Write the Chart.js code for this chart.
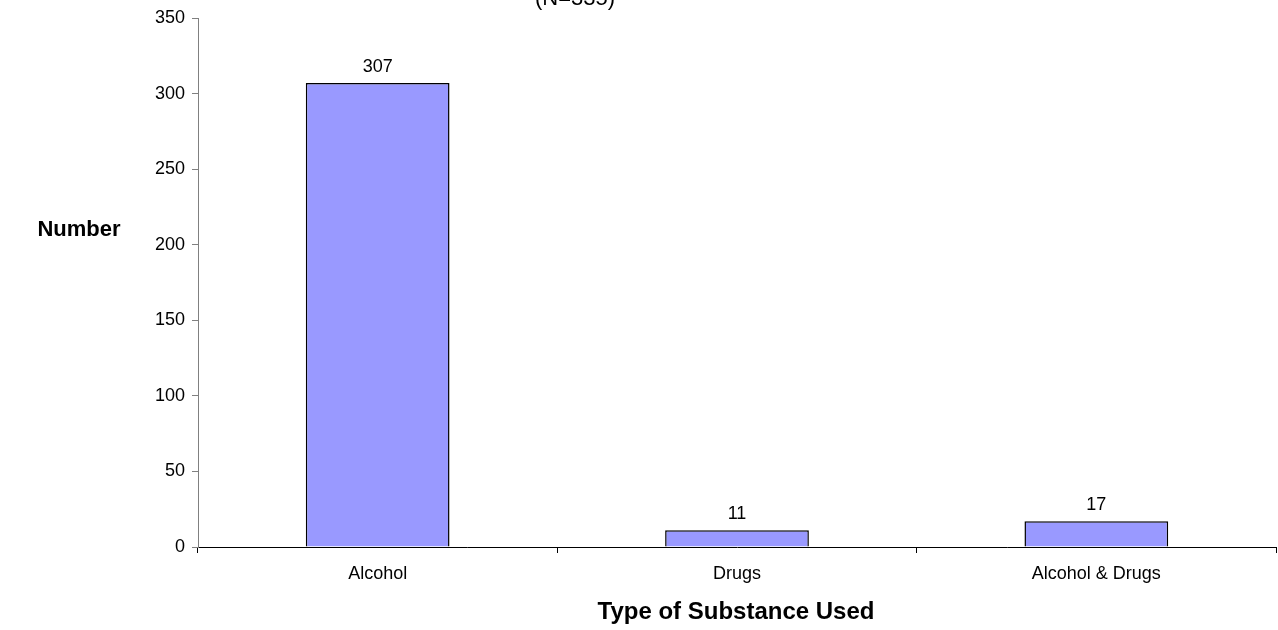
<!DOCTYPE html>
<html>
<head>
<meta charset="utf-8">
<script src="https://cdn.jsdelivr.net/npm/chart.js@4.4.1/dist/chart.umd.min.js"></script>
<style>
  html, body { margin: 0; padding: 0; background: #fff; }
  #wrap { width: 1278px; height: 630px; }
</style>
</head>
<body>
<div id="wrap"><canvas id="grafico"></canvas></div>
<script>
const categorie = ["Alcohol", "Drugs", "Alcohol & Drugs"];
const valori = [307, 11, 17];
const titolo = "(N=335)";
const titoloX = "Type of Substance Used";
const titoloY = "Number";

const FONT = "'Liberation Sans', Arial, sans-serif";

// testi extra: titolo (tagliato in alto), etichette assi e valori sopra le barre
const testiExtra = {
    id: "testiExtra",
    afterDatasetsDraw(chart) {
        const ctx = chart.ctx;
        const area = chart.chartArea;
        ctx.save();
        ctx.fillStyle = "#000";
        ctx.textAlign = "center";

        ctx.font = "22px " + FONT;
        ctx.textBaseline = "alphabetic";
        ctx.fillText(titolo, 575, 5);

        ctx.font = "bold 24px " + FONT;
        ctx.textBaseline = "middle";
        ctx.fillText(titoloX, 736, 612);
        ctx.font = "bold 22px " + FONT;
        ctx.fillText(titoloY, 79, 230);

        ctx.font = "18px " + FONT;
        ctx.textBaseline = "middle";
        const meta = chart.getDatasetMeta(0);
        meta.data.forEach((bar, i) => {
            ctx.fillText(String(valori[i]), bar.x, bar.y - 16);
        });
        ctx.restore();
    }
};

new Chart(document.getElementById("grafico"), {
    type: "bar",
    data: {
        labels: categorie,
        datasets: [{
            data: valori,
            backgroundColor: "#9999FF",
            borderColor: "#000",
            borderWidth: 1.5,
            categoryPercentage: 0.4,
            barPercentage: 1
        }]
    },
    options: {
        responsive: true,
        maintainAspectRatio: false,
        animation: false,
        layout: { padding: { top: 18, right: 2, left: 0, bottom: 0 } },
        plugins: {
            legend: { display: false },
            tooltip: { enabled: false }
        },
        scales: {
            x: {
                afterFit: s => { s.height = 83; },
                border: { color: "#000", width: 1 },
                grid: { offset: true, drawOnChartArea: false, tickLength: 6, color: "#000" },
                ticks: { color: "#000", font: { family: FONT, size: 18 }, padding: 10 }
            },
            y: {
                min: 0,
                max: 350,
                afterFit: s => { s.width = 198; },
                border: { color: "#808080", width: 1 },
                grid: { drawOnChartArea: false, tickLength: 6, color: "#808080" },
                ticks: { stepSize: 50, color: "#000", font: { family: FONT, size: 18 }, padding: 7 }
            }
        }
    },
    plugins: [testiExtra]
});
</script>
</body>
</html>
